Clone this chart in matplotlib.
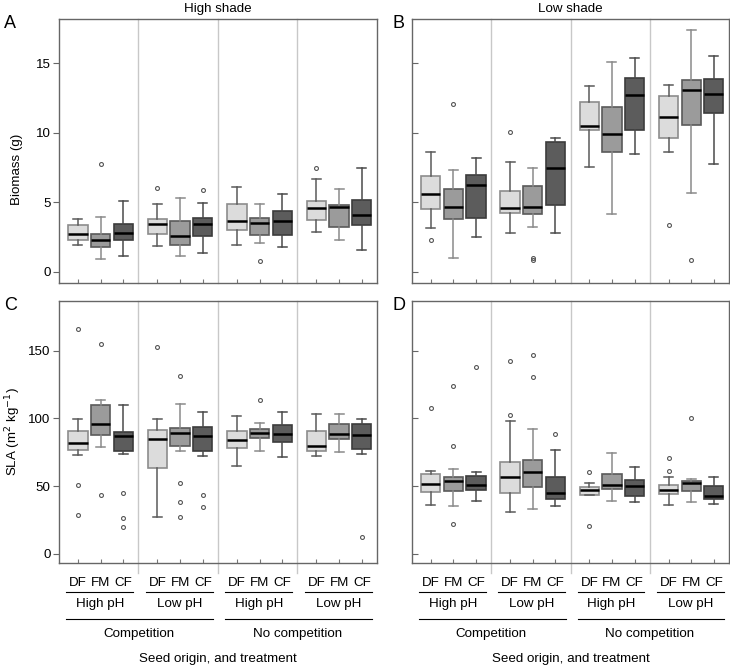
import matplotlib
matplotlib.use('Agg')
import matplotlib.pyplot as plt

plt.rcParams['font.family'] = ['Liberation Sans', 'DejaVu Sans']

# seed origins, pH and competition levels
origins = ["DF", "FM", "CF"]
ph_levels = ["High pH", "Low pH", "High pH", "Low pH"]
comp_levels = ["Competition", "No competition"]
shade_titles = ["High shade", "Low shade"]

# box stats: [whisker low, q1, median, q3, whisker high]
biomass_high = [
    [1.92, 2.28, 2.72, 3.37, 3.82], [0.94, 1.78, 2.31, 2.76, 3.97], [1.13, 2.31, 2.79, 3.46, 5.07],
    [1.83, 2.72, 3.44, 3.82, 4.92], [1.13, 1.97, 2.60, 3.63, 5.29], [1.37, 2.55, 3.44, 3.87, 4.95],
    [1.92, 3.05, 3.63, 4.85, 6.13], [2.07, 2.69, 3.51, 3.85, 4.90], [1.80, 2.69, 3.63, 4.40, 5.60],
    [2.84, 3.77, 4.57, 5.10, 6.68], [2.31, 3.22, 4.64, 4.83, 5.98], [1.59, 3.41, 4.09, 5.14, 7.50],
]
biomass_high_out = [[], [7.74], [], [6.06], [], [5.86], [], [0.79], [], [7.47], [], []]

biomass_low = [
    [3.17, 4.49, 5.60, 6.92, 8.60], [1.03, 3.80, 4.69, 5.96, 7.35], [2.50, 3.87, 6.22, 6.99, 8.20],
    [2.81, 4.25, 4.59, 5.82, 7.88], [3.20, 4.16, 4.64, 6.15, 7.47], [2.81, 4.83, 7.45, 9.32, 9.64],
    [7.57, 10.24, 10.53, 12.26, 13.36], [4.16, 8.63, 9.90, 11.85, 15.12], [8.51, 10.24, 12.76, 13.97, 15.41],
    [8.63, 9.61, 11.15, 12.64, 13.43], [5.67, 10.55, 13.12, 13.82, 17.42], [7.76, 11.41, 12.83, 13.89, 15.53],
]
biomass_low_out = [[2.28], [12.09], [], [10.07], [1.00, 0.84], [], [], [], [], [3.34], [0.82], []]

sla_high = [
    [73.0, 76.7, 81.6, 90.7, 99.8], [78.6, 88.0, 95.6, 110.0, 114.0], [73.5, 75.7, 87.0, 89.7, 110.3],
    [27.3, 63.1, 84.5, 91.6, 99.8], [75.9, 79.6, 89.4, 92.9, 110.8], [72.2, 76.2, 87.2, 93.9, 104.7],
    [64.6, 77.9, 83.8, 90.9, 102.0], [75.7, 85.3, 88.9, 92.4, 96.8], [71.7, 82.8, 88.7, 95.3, 104.7],
    [72.5, 75.7, 79.9, 90.9, 103.4], [74.9, 84.5, 88.7, 95.6, 103.4], [73.7, 77.6, 88.0, 96.1, 99.3],
]
sla_high_out = [[166.3, 50.6, 28.7], [155.3, 43.7], [44.7, 26.5, 19.9],
                [153.0], [131.2, 52.1, 38.3, 26.8], [43.0, 34.6],
                [], [114.0], [],
                [], [], [12.6]]

sla_low = [
    [36.1, 45.5, 51.8, 58.7, 61.2], [35.1, 46.2, 53.6, 57.0, 62.7], [38.8, 46.7, 51.1, 57.5, 60.2],
    [31.0, 45.0, 56.8, 67.6, 98.5], [33.2, 49.1, 60.2, 69.3, 92.4], [34.9, 40.3, 44.5, 56.8, 76.4],
    [43.2, 43.7, 47.2, 49.4, 52.1], [38.6, 47.7, 51.1, 58.7, 74.2], [37.8, 42.8, 50.1, 54.3, 64.4],
    [35.6, 44.0, 47.4, 50.6, 56.5], [37.8, 46.2, 52.1, 53.6, 55.0], [36.6, 40.3, 42.8, 49.9, 56.8],
]
sla_low_out = [[107.9], [123.8, 79.9, 22.1], [138.3],
               [142.8, 102.5], [147.2, 130.7], [88.5],
               [60.2, 20.1], [], [],
               [70.5, 61.2], [100.0], []]

face_colors = ["#dcdcdc", "#9b9b9b", "#5c5c5c"]
edge_colors = ["#8c8c8c", "#5a5a5a", "#3c3c3c"]
whisker_colors = ["#5a5a5a", "#8a8a8a", "#4a4a4a"]

GROUP_W = 3.5
OFFSETS = [0.83, 1.83, 2.83]
FS = 9.6


def draw_panel(ax, stats, fliers, ylim, yticks, show_ylabels, bottom):
    positions = [g * GROUP_W + o for g in range(4) for o in OFFSETS]
    for i, (s, fl) in enumerate(zip(stats, fliers)):
        k = i % 3
        d = dict(whislo=s[0], q1=s[1], med=s[2], q3=s[3], whishi=s[4], fliers=fl)
        ax.bxp([d], positions=[positions[i]], widths=0.85, patch_artist=True,
               boxprops=dict(facecolor=face_colors[k], edgecolor=edge_colors[k], linewidth=1.2),
               medianprops=dict(color='black', linewidth=1.8),
               whiskerprops=dict(color=whisker_colors[k], linewidth=1.1),
               capprops=dict(color=whisker_colors[k], linewidth=1.1),
               capwidths=0.4,
               flierprops=dict(marker='o', markersize=2.8, markerfacecolor='none',
                               markeredgecolor='#555555', markeredgewidth=0.8),
               manage_ticks=False)
    ax.set_xlim(0, 4 * GROUP_W)
    ax.set_ylim(*ylim)
    ax.set_yticks(yticks)
    for sp in ax.spines.values():
        sp.set_color('#666666')
        sp.set_linewidth(1.0)
    # group separators
    ext = -0.04 if bottom else 0.0
    for g in range(1, 4):
        ax.plot([g * GROUP_W] * 2, [ext, 1], color='#c8c8c8', lw=1.0,
                transform=ax.get_xaxis_transform(), clip_on=False, zorder=0)
    ax.set_xticks(positions)
    ax.tick_params(axis='x', direction='in', length=3, color='#777777')
    if show_ylabels:
        ax.tick_params(axis='y', direction='out', length=4, color='#666666', labelsize=FS, pad=2)
    else:
        ax.tick_params(axis='y', direction='in', length=4, color='#666666', labelleft=False)
    if bottom:
        ax.set_xticklabels(origins * 4, fontsize=FS)
        ax.tick_params(axis='x', pad=10)
        tr = ax.get_xaxis_transform()
        for g in range(4):
            x0 = g * GROUP_W
            ax.plot([x0 + 0.31, x0 + 3.26], [-0.11, -0.11], color='black', lw=0.8,
                    transform=tr, clip_on=False)
            ax.text(x0 + 1.8, -0.158, ph_levels[g], ha='center', va='center',
                    fontsize=FS, transform=tr)
        for c in range(2):
            x0 = c * 2 * GROUP_W
            ax.plot([x0 + 0.31, x0 + 6.78], [-0.215, -0.215], color='black', lw=0.8,
                    transform=tr, clip_on=False)
            ax.text(x0 + GROUP_W, -0.27, comp_levels[c], ha='center', va='center',
                    fontsize=FS, transform=tr)
        ax.text(2 * GROUP_W, -0.365, "Seed origin, and treatment", ha='center', va='center',
                fontsize=FS, transform=tr)
    else:
        ax.tick_params(axis='x', labelbottom=False)


fig = plt.figure(figsize=(7.3, 6.66), dpi=100)
W, H = 730, 666
ax_a = fig.add_axes([59 / W, (H - 283) / H, 318 / W, 264 / H])
ax_b = fig.add_axes([412 / W, (H - 283) / H, 317 / W, 264 / H])
ax_c = fig.add_axes([59 / W, (H - 563) / H, 318 / W, 262 / H])
ax_d = fig.add_axes([412 / W, (H - 563) / H, 317 / W, 262 / H])

bio_lim = (-0.8, 18.2)
sla_lim = (-7, 187)
draw_panel(ax_a, biomass_high, biomass_high_out, bio_lim, [0, 5, 10, 15], True, False)
draw_panel(ax_b, biomass_low, biomass_low_out, bio_lim, [0, 5, 10, 15], False, False)
draw_panel(ax_c, sla_high, sla_high_out, sla_lim, [0, 50, 100, 150], True, True)
draw_panel(ax_d, sla_low, sla_low_out, sla_lim, [0, 50, 100, 150], False, True)

ax_a.set_title(shade_titles[0], fontsize=FS, pad=5)
ax_b.set_title(shade_titles[1], fontsize=FS, pad=5)

ax_a.set_ylabel("Biomass (g)", fontsize=FS)
ax_a.yaxis.set_label_coords(-0.113, 0.43)
ax_c.set_ylabel("SLA (m$^2$ kg$^{-1}$)", fontsize=FS)
ax_c.yaxis.set_label_coords(-0.113, 0.5)

for lab, x, y in [("A", 4, 24), ("B", 393, 24), ("C", 4, 305), ("D", 393, 305)]:
    fig.text(x / W, 1 - y / H, lab, fontsize=13, ha='left', va='center')

fig.savefig("out.png", dpi=100)
